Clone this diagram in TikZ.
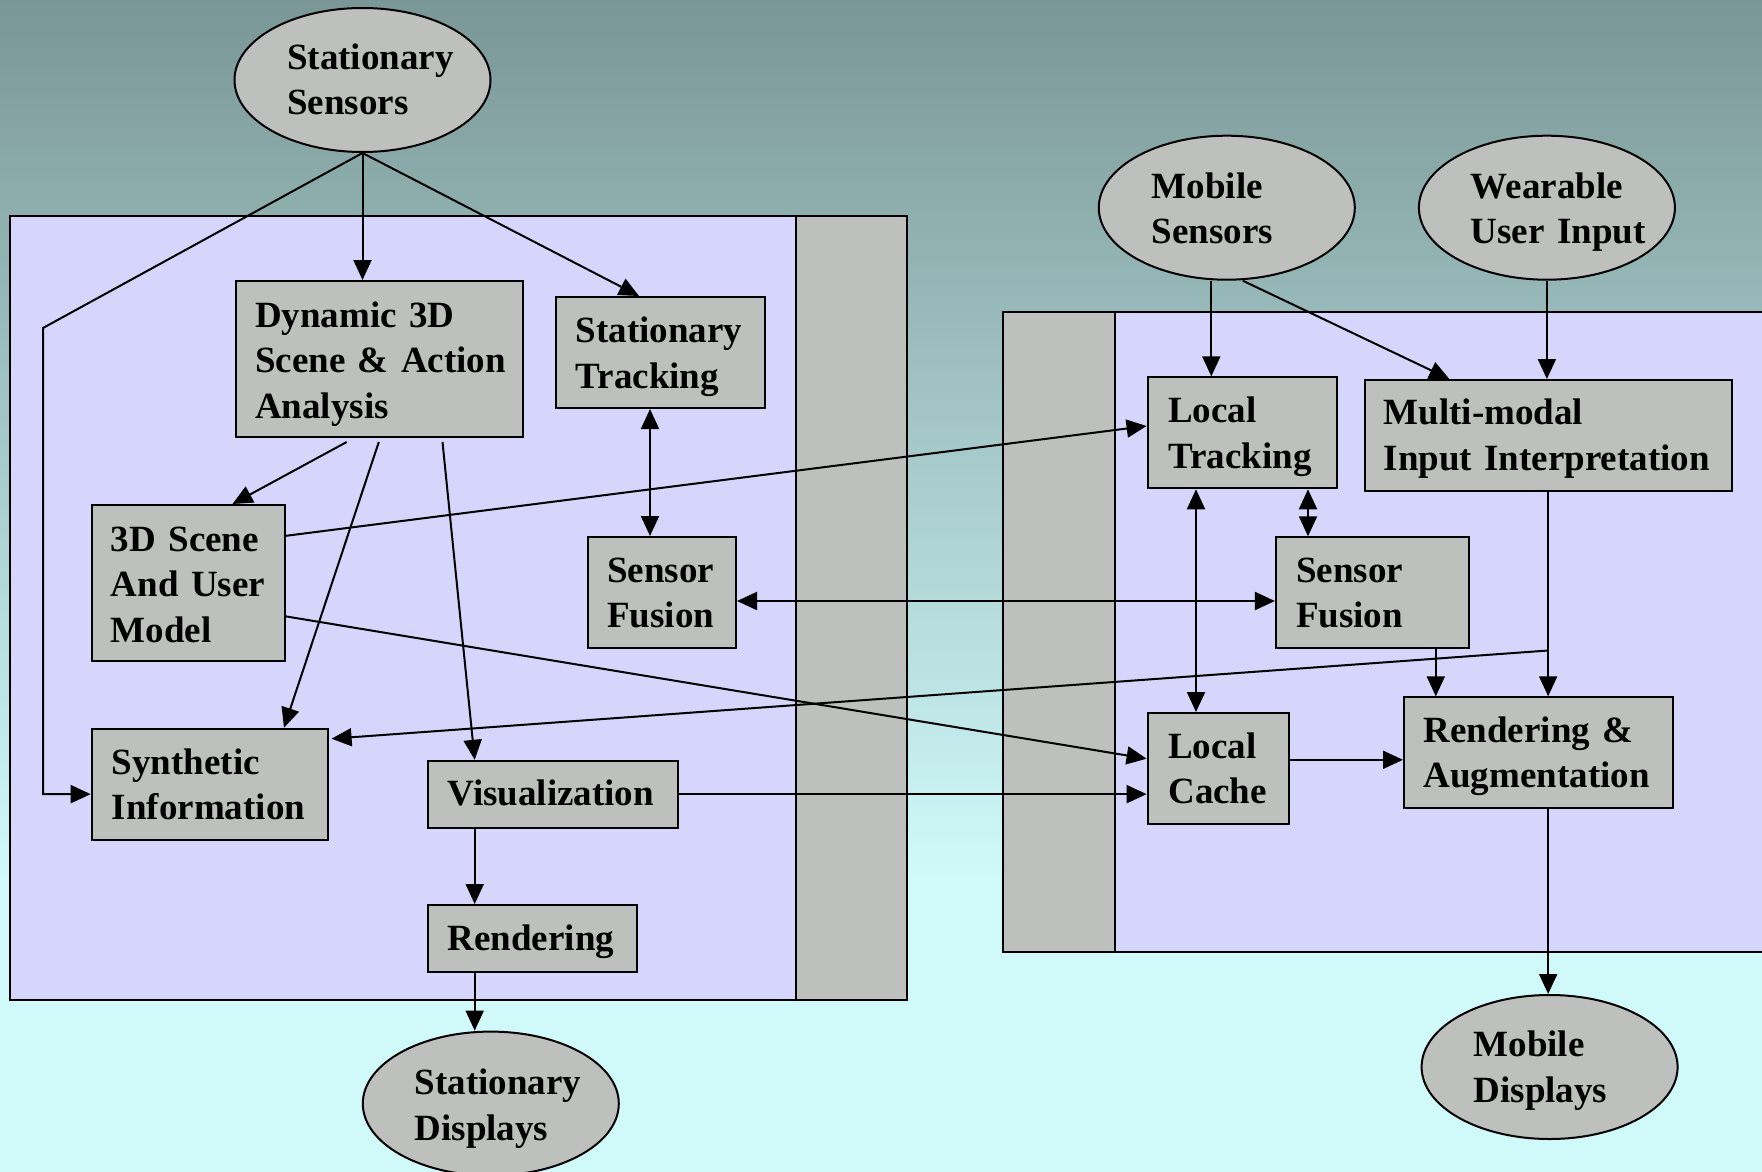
\documentclass[tikz,border=0pt]{standalone}
\usepackage{fontspec}
\setmainfont{Liberation Serif}
\usetikzlibrary{shapes.geometric,arrows.meta,calc}
\definecolor{bgtop}{RGB}{122,150,150}
\definecolor{bgbot}{RGB}{208,250,250}
\definecolor{panel}{RGB}{214,214,252}
\definecolor{boxgray}{RGB}{190,192,190}
\begin{document}
\begin{tikzpicture}[x=1pt,y=-1pt,
  every node/.style={font=\fontsize{37}{45.5}\selectfont\bfseries},
  box/.style={draw=black, line width=2pt, fill=boxgray, rectangle, anchor=north west, inner sep=0pt},
  oval/.style={draw=black, line width=2pt, fill=boxgray, ellipse, inner sep=0pt, minimum width=256pt, minimum height=144pt},
  lbl/.style={anchor=base west, inner sep=0pt, text width=400pt, align=left},
  conn/.style={line width=2pt, -{Triangle[length=20pt,width=18pt]}},
  biconn/.style={line width=2pt, {Triangle[length=20pt,width=18pt]}-{Triangle[length=20pt,width=18pt]}},
  panelbox/.style={draw=black, line width=2pt, fill=panel},
  strip/.style={draw=black, line width=2pt, fill=boxgray}
]
\useasboundingbox (0,0) rectangle (1762,1172);
\fill[bgbot] (0,870) rectangle (1762,1172);
\shade[top color=bgtop, bottom color=bgbot] (0,0) rectangle (1762,880);

% panels
\draw[panelbox] (10.3,216) rectangle (907,1000);
\draw[strip] (795.6,216) rectangle (907,1000);
\draw[panelbox] (1002.6,311.6) rectangle (1780,952);
\draw[strip] (1002.6,311.6) rectangle (1115.1,952);

% ellipses
\node[oval] (ss) at (362.5,80) {};
\node[oval] (ms) at (1226.8,207.7) {};
\node[oval] (wu) at (1546.9,207.7) {};
\node[oval] (sd) at (490.8,1103.6) {};
\node[oval] (md) at (1549.6,1067) {};
\node[lbl] (sst) at (287,69.5) {Stationary\\Sensors};
\node[lbl] (mst) at (1151.7,198) {Mobile\\Sensors};
\node[lbl] (wut) at (1470.6,198) {Wearable\\User Input};
\node[lbl] (sdt) at (414.5,1094.5) {Stationary\\Displays};
\node[lbl] (mdt) at (1473.4,1056.5) {Mobile\\Displays};

% boxes
\node[box, minimum width=287pt, minimum height=156pt] (dyn) at (235,280) {};
\node[box, minimum width=209.5pt, minimum height=111pt] (st) at (554.5,296) {};
\node[box, minimum width=193.3pt, minimum height=155.5pt] (sc) at (90.7,504) {};
\node[box, minimum width=148.4pt, minimum height=110.7pt] (sf) at (586.6,536) {};
\node[box, minimum width=235.9pt, minimum height=111.6pt] (si) at (90.7,727.7) {};
\node[box, minimum width=250.8pt, minimum height=66.7pt] (vis) at (426.5,759.8) {};
\node[box, minimum width=209.5pt, minimum height=66.6pt] (rend) at (426.5,904) {};
\node[box, minimum width=189pt, minimum height=111pt] (lt) at (1146.6,376.3) {};
\node[box, minimum width=366.7pt, minimum height=111pt] (mm) at (1363.8,379) {};
\node[box, minimum width=192.9pt, minimum height=111pt] (sfr) at (1274.9,536.3) {};
\node[box, minimum width=141.2pt, minimum height=111.3pt] (lc) at (1146.6,712) {};
\node[box, minimum width=269pt, minimum height=110.9pt] (ra) at (1403,696.3) {};

% box texts
\node[lbl] (dynt) at ($(dyn.north west)+(20,47)$) {Dynamic 3D\\Scene \& Action\\Analysis};
\node[lbl] (stt) at ($(st.north west)+(21,46.5)$) {Stationary\\Tracking};
\node[lbl] (sct) at ($(sc.north west)+(20,47)$) {3D Scene\\And User\\Model};
\node[lbl] (sft) at ($(sf.north west)+(20.5,46)$) {Sensor\\Fusion};
\node[lbl] (sit) at ($(si.north west)+(21,46.5)$) {Synthetic\\Information};
\node[lbl] (vist) at ($(vis.north west)+(21,46)$) {Visualization};
\node[lbl] (rendt) at ($(rend.north west)+(21,46)$) {Rendering};
\node[lbl] (ltt) at ($(lt.north west)+(21.5,46.3)$) {Local\\Tracking};
\node[lbl] (mmt) at ($(mm.north west)+(19.6,45.8)$) {Multi-modal\\Input Interpretation};
\node[lbl] (sfrt) at ($(sfr.north west)+(21,46)$) {Sensor\\Fusion};
\node[lbl] (lct) at ($(lc.north west)+(21.5,46.3)$) {Local\\Cache};
\node[lbl] (rat) at ($(ra.north west)+(20.4,46)$) {Rendering \&\\Augmentation};

% helper coordinates
\coordinate (k1) at (43,328);
\coordinate (ltA) at ($(lt.north west)+(64.7,0)$);
\coordinate (ltB) at ($(lt.south west)+(161.4,0)$);
\coordinate (ltC) at ($(lt.south west)+(49.4,0)$);
\coordinate (br) at ($(mm.south)+(0,158.5)$);
\coordinate (sfrA) at ($(sfr.south west)+(160.9,0)$);
\coordinate (lcA) at ($(lc.north east)+(0,47.8)$);
\coordinate (visA) at ($(vis.south west)+(48.2,0)$);
\coordinate (rendA) at ($(rend.south west)+(48.2,0)$);

% connectors
\draw[conn] (ss.south) -- (ss.south |- dyn.north);
\draw[conn] (ss.south) -- ($(st.north west)+(84.5,0)$);
\draw[conn] (ss.south) -- (k1) -- (k1 |- vis.west) -- (si.west |- vis.west);
\draw[conn] ($(dyn.south west)+(111.7,4)$) -- ($(sc.north west)+(141.8,0)$);
\draw[conn] ($(dyn.south west)+(143.8,4)$) -- ($(si.north west)+(193.3,0)$);
\draw[conn] ($(dyn.south west)+(207.5,4)$) -- ($(vis.north west)+(48.2,0)$);
\draw[biconn] ($(st.south west)+(95.5,0)$) -- ($(sf.north west)+(63.4,0)$);
\draw[conn] ($(sc.north east)+(0,31.8)$) -- ($(lt.north west)+(0,49.7)$);
\draw[conn] ($(sc.north east)+(0,112.4)$) -- ($(lc.north west)+(0,46.7)$);
\draw[biconn] ($(sf.north east)+(0,65)$) -- ($(sfr.north west)+(0,64.7)$);
\draw[conn] (vis.east) -- (vis.east -| lc.west);
\draw[conn] (ltA |- ms.south) -- (ltA);
\draw[conn] ($(ms.south)+(16,0)$) -- ($(mm.north west)+(85.5,0)$);
\draw[conn] (wu.south) -- (wu.south |- mm.north);
\draw[biconn] (ltB) -- (ltB |- sfr.north);
\draw[biconn] (ltC) -- (ltC |- lc.north);
\draw[conn] (mm.south) -- (mm.south |- ra.north);
\draw[conn] (br) -- ($(si.north east)+(3,11)$);
\draw[conn] (sfrA) -- (sfrA |- ra.north);
\draw[conn] (lcA) -- (lcA -| ra.west);
\draw[conn] (ra.south -| mm.south) -- (mm.south |- md.north);
\draw[conn] (visA) -- (visA |- rend.north);
\draw[conn] (rendA) -- (rendA |- sd.north);
\end{tikzpicture}
\end{document}
